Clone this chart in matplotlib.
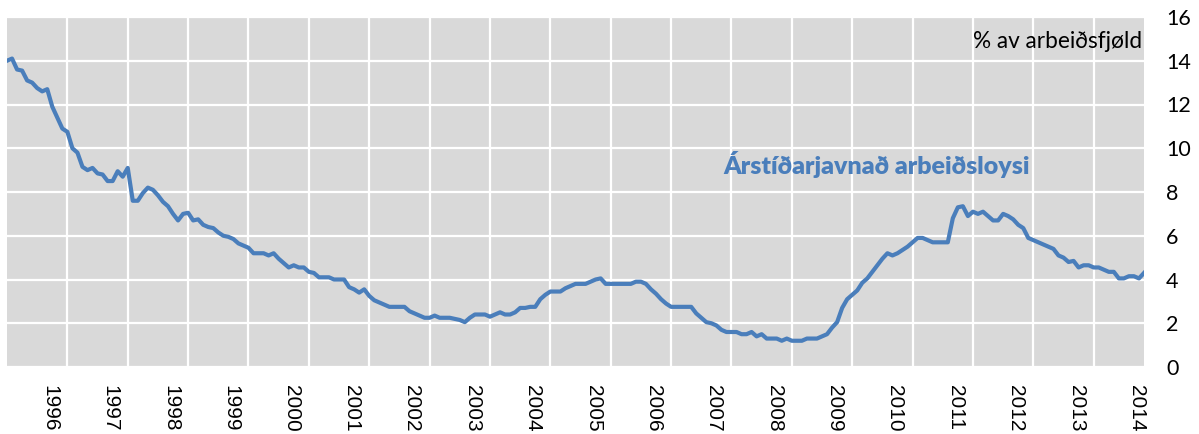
import numpy as np
import matplotlib
matplotlib.use("Agg")
from matplotlib import pyplot as plt

# monthly seasonally adjusted unemployment, % of labour force
rate = [
    14.0, 14.1, 13.6, 13.55, 13.1, 13.0, 12.75, 12.6, 12.7, 11.9, 11.4, 10.9,
    10.75, 10.0, 9.8, 9.15, 9.0, 9.1, 8.85, 8.8, 8.5, 8.5, 8.95, 8.7,
    9.1, 7.6, 7.6, 7.95, 8.2, 8.1, 7.85, 7.55, 7.35, 7.0, 6.7, 7.0,
    7.05, 6.7, 6.75, 6.5, 6.4, 6.35, 6.15, 6.0, 5.95, 5.85, 5.65, 5.55,
    5.45, 5.2, 5.2, 5.2, 5.1, 5.2, 4.95, 4.75, 4.55, 4.65, 4.55, 4.55,
    4.35, 4.3, 4.1, 4.1, 4.1, 4.0, 4.0, 4.0, 3.65, 3.55, 3.4, 3.55,
    3.25, 3.05, 2.95, 2.85, 2.75, 2.75, 2.75, 2.75, 2.55, 2.45, 2.35, 2.25,
    2.25, 2.35, 2.25, 2.25, 2.25, 2.2, 2.15, 2.05, 2.25, 2.4, 2.4, 2.4,
    2.3, 2.4, 2.5, 2.4, 2.4, 2.5, 2.7, 2.7, 2.75, 2.75, 3.1, 3.3,
    3.45, 3.45, 3.45, 3.6, 3.7, 3.8, 3.8, 3.8, 3.9, 4.0, 4.05, 3.8,
    3.8, 3.8, 3.8, 3.8, 3.8, 3.9, 3.9, 3.8, 3.55, 3.35, 3.1, 2.9,
    2.75, 2.75, 2.75, 2.75, 2.75, 2.45, 2.25, 2.05, 2.0, 1.9, 1.7, 1.6,
    1.6, 1.6, 1.5, 1.5, 1.6, 1.4, 1.5, 1.3, 1.3, 1.3, 1.2, 1.3,
    1.2, 1.2, 1.2, 1.3, 1.3, 1.3, 1.4, 1.5, 1.8, 2.05, 2.7, 3.1,
    3.3, 3.5, 3.85, 4.05, 4.35, 4.65, 4.95, 5.2, 5.1, 5.2, 5.35, 5.5,
    5.7, 5.9, 5.9, 5.8, 5.7, 5.7, 5.7, 5.7, 6.8, 7.3, 7.35, 6.9,
    7.1, 7.0, 7.1, 6.9, 6.7, 6.7, 7.0, 6.9, 6.75, 6.5, 6.35, 5.9,
    5.8, 5.7, 5.6, 5.5, 5.4, 5.1, 5.0, 4.8, 4.85, 4.55, 4.65, 4.65,
    4.55, 4.55, 4.45, 4.35, 4.35, 4.05, 4.05, 4.15, 4.15, 4.05, 4.3,
]
years = [str(y) for y in range(1996, 2015)]
yticks = [0, 2, 4, 6, 8, 10, 12, 14, 16]

blue = "#4A7EBB"
months = np.arange(len(rate))

fig = plt.figure(figsize=(11.99, 4.34), dpi=100)
ax = fig.add_axes([7 / 1199, 1 - 367 / 434, 1137 / 1199, 350 / 434])
ax.set_facecolor("#D9D9D9")

ax.plot(months, rate, color=blue, lw=3.0, solid_joinstyle="round", zorder=3)

ax.set_xlim(0, len(rate) - 1)
ax.set_ylim(0, 16)

# white year gridlines, labels a bit before each line
ax.set_xticks(np.arange(12, len(rate), 12), minor=True)
ax.set_xticks(8.5 + 12 * np.arange(len(years)))
ax.set_xticklabels(years, rotation=270, family="Liberation Sans", fontsize=15)
ax.tick_params(axis="x", which="both", length=0, pad=13)
ax.grid(axis="x", which="minor", color="white", lw=1.6)

ax.set_yticks(yticks)
ax.set_yticklabels([str(v) for v in yticks], family="Lato", fontsize=15.5)
ax.yaxis.tick_right()
ax.tick_params(axis="y", length=0, pad=16)
ax.grid(axis="y", color="white", lw=1.6)
ax.set_axisbelow(True)

for s in ax.spines.values():
    s.set_visible(False)

ax.text(0.998, (367 - 42) / 350, "% av arbeiðsfjøld", transform=ax.transAxes,
        ha="right", va="center", family="Lato", fontsize=16.3, color="black")
ax.text((723 - 7) / 1137, (367 - 165) / 350, "Árstíðarjavnað arbeiðsloysi",
        transform=ax.transAxes, ha="left", va="center", family="Lato",
        fontweight="heavy", fontsize=18, color=blue)

fig.savefig("out.png", dpi=100)
